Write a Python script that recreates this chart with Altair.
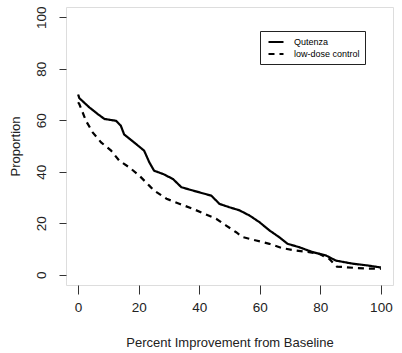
import altair as alt
import pandas as pd

series_names = ["Qutenza", "low-dose control"]

q_x = [0, 0.4, 3.7, 6.5, 8.7, 12.5, 14.1, 15.2, 19.1, 21.8, 23.5, 25.1, 28.1, 31.3, 34.1,
       37.9, 44, 46.7, 50, 53.3, 56.6, 59.9, 63.2, 66.4, 69.2, 73, 77.4, 81.8, 85.1, 90.6, 95.5, 100]
q_y = [70, 68.6, 65, 62.4, 60.5, 59.8, 57.9, 54.5, 50.8, 48.2, 43.7, 40.4, 39.1, 37.2, 34,
       32.7, 30.7, 27.5, 26.2, 25, 23, 20.4, 17.2, 14.6, 12, 10.7, 8.8, 7.5, 5.5, 4.3, 3.6, 2.8]

c_x = [0, 0.4, 2.6, 4.8, 7.6, 10.9, 13.6, 16.9, 20.2, 23.5, 25.1, 29.2, 33.6, 37.9, 41.8,
       45.6, 48.9, 52.2, 54.4, 58.8, 63.2, 67.5, 71.9, 76.3, 79.6, 82.9, 85.5, 87.3, 92, 96, 100]
c_y = [67, 66.3, 59.8, 55.3, 51.4, 48.2, 44.3, 41.7, 38.5, 34.6, 32.7, 29.5, 27.5, 25.6, 23.6,
       21.7, 19.1, 16.5, 14.6, 13.3, 12, 10.3, 9.4, 8.8, 8.1, 6.2, 3.1, 3, 2.6, 2.4, 2.3]

tick_vals = [0, 20, 40, 60, 80, 100]

rows = []
for i, (x, y) in enumerate(zip(q_x, q_y)):
    rows.append({"x": x, "y": y, "group": series_names[0], "order": i})
for i, (x, y) in enumerate(zip(c_x, c_y)):
    rows.append({"x": x, "y": y, "group": series_names[1], "order": i})
df = pd.DataFrame(rows)

FONT = "Liberation Sans"
TXT = "#222222"

chart = alt.Chart(df).mark_line(color="black", strokeWidth=2.2).encode(
    x=alt.X("x:Q",
            scale=alt.Scale(domain=[-4, 104], nice=False, zero=False),
            axis=alt.Axis(values=tick_vals, title="Percent Improvement from Baseline",
                          grid=False, domain=False, tickColor="#333333", tickSize=9,
                          labelFontSize=13.5, labelFont=FONT, labelColor=TXT, labelPadding=6,
                          titleFont=FONT, titleFontSize=13, titleFontWeight="normal",
                          titleColor=TXT, titleY=57, titleBaseline="middle")),
    y=alt.Y("y:Q",
            scale=alt.Scale(domain=[-4, 104], nice=False, zero=False),
            axis=alt.Axis(values=tick_vals, title="Proportion",
                          grid=False, domain=False, tickColor="#333333", tickSize=7,
                          labelFontSize=13.5, labelFont=FONT, labelColor=TXT,
                          labelAngle=270, labelAlign="center", labelBaseline="alphabetic",
                          labelPadding=14,
                          titleFont=FONT, titleFontSize=13, titleFontWeight="normal",
                          titleColor=TXT, titleAngle=270, titleX=-51, titleBaseline="middle")),
    strokeDash=alt.StrokeDash("group:N",
                              scale=alt.Scale(domain=series_names, range=[[1, 0], [6, 5]]),
                              legend=alt.Legend(title=None, orient="none", legendX=194, legendY=24,
                                                strokeColor="#222222", fillColor="white",
                                                padding=5, symbolType="M-1.5,0H1.5",
                                                symbolStrokeColor="black", symbolStrokeWidth=2,
                                                symbolFillColor="transparent", symbolOffset=5,
                                                symbolSize=100, labelFont=FONT, labelFontSize=9,
                                                labelColor="black", rowPadding=1, labelOffset=12)),
    order="order:Q",
).properties(
    width=327, height=278,
    autosize=alt.AutoSizeParams(type="none"),
    padding={"left": 66, "top": 7, "right": 9, "bottom": 68},
).configure_view(
    stroke="#333333", strokeWidth=1.3
).configure(background="white")

chart.save("out.html", embed_options={"renderer": "svg", "actions": False})
